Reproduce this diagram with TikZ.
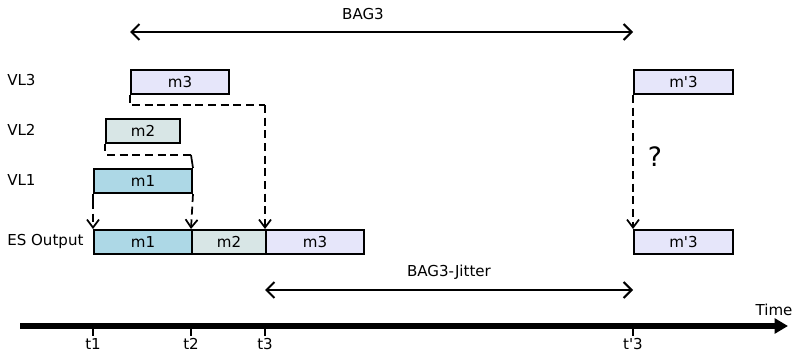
\documentclass[tikz,border=0pt]{standalone}
\usepackage{fontspec}
\setmainfont{DejaVu Sans}
\usetikzlibrary{arrows.meta}
\definecolor{cOne}{HTML}{ADD8E6}
\definecolor{cTwo}{HTML}{D8E6E6}
\definecolor{cThree}{HTML}{E6E6FA}
\newcommand{\pr}{\textquotesingle}
\begin{document}
\begin{tikzpicture}[x=0.75pt,y=-0.75pt,
  font=\fontsize{11.3}{13}\selectfont,
  msg/.style={draw,line width=1.5pt,minimum height=24*0.75pt,inner sep=0pt,anchor=north west},
  lbl/.style={anchor=west,inner sep=0pt},
  flow/.style={dashed,dash pattern=on 6pt off 3.5pt,line width=1.3pt,-{Straight Barb[length=6pt,width=9pt,line width=1.3pt]}},
  link/.style={dashed,dash pattern=on 6pt off 3.5pt,line width=1.3pt},
  tick/.style={line width=1.3pt},
  span/.style={line width=1.5pt,{Straight Barb[length=6pt,width=12pt,line width=1.5pt]}-{Straight Barb[length=6pt,width=12pt,line width=1.5pt]}}]
\useasboundingbox (0,0) rectangle (795,353);

% row labels
\node[lbl] (lvl3) at (7,80) {VL3};
\node[lbl] (lvl2) at (7,130) {VL2};
\node[lbl] (lvl1) at (7,180) {VL1};
\node[lbl] (lout) at (7,241) {ES Output};

% virtual link messages
\node[msg,fill=cThree,minimum width=98*0.75pt] (v3) at (130,69) {m3};
\node[msg,fill=cTwo,minimum width=74*0.75pt] (v2) at (105,118) {m2};
\node[msg,fill=cOne,minimum width=98*0.75pt] (v1) at (93,168) {m1};
\node[msg,fill=cThree,minimum width=99*0.75pt] (v3b) at (633,69) {m\pr3};

% end system output
\node[msg,fill=cOne,minimum width=98*0.75pt] (o1) at (93,229) {m1};
\node[msg,fill=cTwo,minimum width=74*0.75pt] (o2) at (191,229) {m2};
\node[msg,fill=cThree,minimum width=98*0.75pt] (o3) at (265,229) {m3};
\node[msg,fill=cThree,minimum width=99*0.75pt] (o3b) at (633,229) {m\pr3};

% waiting links between messages
\coordinate (k3) at (130,103);
\coordinate (k2) at (105,151);
\coordinate (k1) at (93,201);
\draw[tick] (v3.south west) -- (k3);
\draw[tick] (v2.south west) -- (k2);
\draw[tick] (v1.south west) -- (k1);
\draw[tick] (191,155) -- (v1.north east);
\draw[link] (132,105) -- (265,105);
\draw[link] (107,155) -- (191,155);
\draw[flow] (265,105) -- (o3.north west);
\draw[flow] (k1) -- (o1.north west);
\draw[flow] (v1.south east) -- (o2.north west);
\draw[flow] (v3b.south west) -- (o3b.north west);
\node[font=\fontsize{20}{22}\selectfont] (q) at (655,157) {?};

% bandwidth allocation gap
\node (bag) at (363,14) {BAG3};
\draw[span] (130,32) -- (633,32);
\node (jit) at (449,272) {BAG3-Jitter};
\draw[span] (265,290) -- (633,290);

% time axis
\coordinate (ax0) at (20,326);
\coordinate (ax1) at (788,326);
\draw[line width=4.5pt,-{Triangle[length=10pt,width=11pt]}] (ax0) -- (ax1);
\node (time) at (774,310) {Time};
\foreach \x/\t in {93/t1,191/t2,265/t3,633/t\pr3}{
  \draw[tick] (\x,326) -- (\x,336);
  \node (l\x) at (\x,344) {\t};
}
\end{tikzpicture}
\end{document}
